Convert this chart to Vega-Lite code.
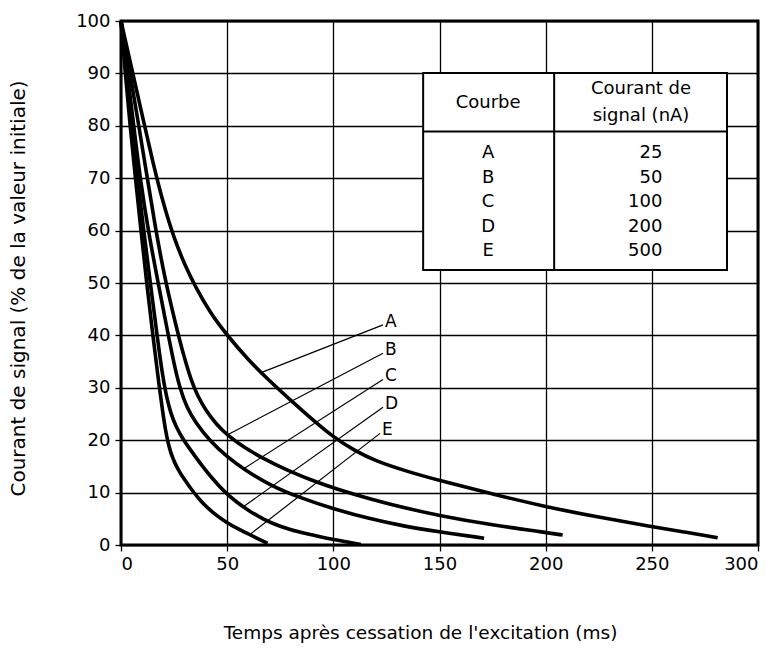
{
  "$schema": "https://vega.github.io/schema/vega-lite/v6.json",
  "width": 637,
  "height": 524,
  "autosize": {"type": "none"},
  "padding": {"left": 121, "top": 21, "right": 21, "bottom": 109},
  "background": "white",
  "config": {
    "font": "DejaVu Sans",
    "view": {"stroke": "black", "strokeWidth": 3},
    "text": {"font": "DejaVu Sans", "fontSize": 17, "color": "black"},
    "axis": {
      "labelFont": "DejaVu Sans",
      "titleFont": "DejaVu Sans",
      "labelColor": "black",
      "titleColor": "black",
      "labelFontSize": 18,
      "titleFontSize": 18.5,
      "titleFontWeight": "normal",
      "domain": false,
      "grid": true,
      "gridColor": "black",
      "gridOpacity": 1,
      "gridWidth": 1.3,
      "tickColor": "black",
      "tickSize": 6,
      "tickWidth": 1.3
    }
  },
  "datasets": {
    "courbes": [
      {"courbe": "A", "temps": 0, "courant": 100},
      {"courbe": "A", "temps": 5, "courant": 91},
      {"courbe": "A", "temps": 10, "courant": 82},
      {"courbe": "A", "temps": 15, "courant": 73},
      {"courbe": "A", "temps": 20, "courant": 65},
      {"courbe": "A", "temps": 25, "courant": 58.5},
      {"courbe": "A", "temps": 30, "courant": 53.5},
      {"courbe": "A", "temps": 35, "courant": 49.3},
      {"courbe": "A", "temps": 42, "courant": 44.3},
      {"courbe": "A", "temps": 50, "courant": 40},
      {"courbe": "A", "temps": 60, "courant": 35.3},
      {"courbe": "A", "temps": 70, "courant": 31.3},
      {"courbe": "A", "temps": 80, "courant": 27.6},
      {"courbe": "A", "temps": 90, "courant": 24},
      {"courbe": "A", "temps": 100, "courant": 20.6},
      {"courbe": "A", "temps": 110, "courant": 18},
      {"courbe": "A", "temps": 120, "courant": 16},
      {"courbe": "A", "temps": 135, "courant": 14},
      {"courbe": "A", "temps": 150, "courant": 12.3},
      {"courbe": "A", "temps": 175, "courant": 9.7},
      {"courbe": "A", "temps": 200, "courant": 7.3},
      {"courbe": "A", "temps": 225, "courant": 5.3},
      {"courbe": "A", "temps": 250, "courant": 3.5},
      {"courbe": "A", "temps": 265, "courant": 2.5},
      {"courbe": "A", "temps": 281, "courant": 1.4},
      {"courbe": "B", "temps": 0, "courant": 100},
      {"courbe": "B", "temps": 4, "courant": 90.5},
      {"courbe": "B", "temps": 8, "courant": 81},
      {"courbe": "B", "temps": 12, "courant": 71},
      {"courbe": "B", "temps": 16, "courant": 61},
      {"courbe": "B", "temps": 20.5, "courant": 51},
      {"courbe": "B", "temps": 27, "courant": 40},
      {"courbe": "B", "temps": 30, "courant": 35.5},
      {"courbe": "B", "temps": 33, "courant": 31.5},
      {"courbe": "B", "temps": 36, "courant": 28.5},
      {"courbe": "B", "temps": 40, "courant": 25.6},
      {"courbe": "B", "temps": 45, "courant": 23},
      {"courbe": "B", "temps": 50, "courant": 21},
      {"courbe": "B", "temps": 58, "courant": 18.6},
      {"courbe": "B", "temps": 67, "courant": 16.5},
      {"courbe": "B", "temps": 78, "courant": 14.3},
      {"courbe": "B", "temps": 90, "courant": 12.3},
      {"courbe": "B", "temps": 102, "courant": 10.6},
      {"courbe": "B", "temps": 117, "courant": 8.8},
      {"courbe": "B", "temps": 133, "courant": 7.1},
      {"courbe": "B", "temps": 150, "courant": 5.6},
      {"courbe": "B", "temps": 175, "courant": 3.8},
      {"courbe": "B", "temps": 200, "courant": 2.4},
      {"courbe": "B", "temps": 208, "courant": 1.9},
      {"courbe": "C", "temps": 0, "courant": 100},
      {"courbe": "C", "temps": 3, "courant": 90},
      {"courbe": "C", "temps": 6, "courant": 80},
      {"courbe": "C", "temps": 9, "courant": 70},
      {"courbe": "C", "temps": 12.8, "courant": 60},
      {"courbe": "C", "temps": 17.5, "courant": 50},
      {"courbe": "C", "temps": 22.3, "courant": 40},
      {"courbe": "C", "temps": 25, "courant": 34.5},
      {"courbe": "C", "temps": 28, "courant": 29.5},
      {"courbe": "C", "temps": 31, "courant": 26.3},
      {"courbe": "C", "temps": 35, "courant": 23.4},
      {"courbe": "C", "temps": 42, "courant": 19.8},
      {"courbe": "C", "temps": 50, "courant": 16.8},
      {"courbe": "C", "temps": 58, "courant": 14.4},
      {"courbe": "C", "temps": 70, "courant": 11.4},
      {"courbe": "C", "temps": 85, "courant": 8.9},
      {"courbe": "C", "temps": 100, "courant": 6.9},
      {"courbe": "C", "temps": 117, "courant": 5},
      {"courbe": "C", "temps": 133, "courant": 3.6},
      {"courbe": "C", "temps": 150, "courant": 2.5},
      {"courbe": "C", "temps": 171, "courant": 1.3},
      {"courbe": "D", "temps": 0, "courant": 100},
      {"courbe": "D", "temps": 2.5, "courant": 90},
      {"courbe": "D", "temps": 5, "courant": 80},
      {"courbe": "D", "temps": 7.8, "courant": 70},
      {"courbe": "D", "temps": 10.7, "courant": 60},
      {"courbe": "D", "temps": 13.8, "courant": 50},
      {"courbe": "D", "temps": 17, "courant": 40},
      {"courbe": "D", "temps": 19.3, "courant": 33},
      {"courbe": "D", "temps": 21.3, "courant": 28.5},
      {"courbe": "D", "temps": 23.5, "courant": 25},
      {"courbe": "D", "temps": 26, "courant": 22.5},
      {"courbe": "D", "temps": 29, "courant": 20.3},
      {"courbe": "D", "temps": 33, "courant": 18},
      {"courbe": "D", "temps": 38, "courant": 15.2},
      {"courbe": "D", "temps": 43, "courant": 12.7},
      {"courbe": "D", "temps": 48, "courant": 10.4},
      {"courbe": "D", "temps": 55, "courant": 8},
      {"courbe": "D", "temps": 60, "courant": 6.6},
      {"courbe": "D", "temps": 67, "courant": 4.9},
      {"courbe": "D", "temps": 75, "courant": 3.5},
      {"courbe": "D", "temps": 85, "courant": 2.3},
      {"courbe": "D", "temps": 98, "courant": 1.2},
      {"courbe": "D", "temps": 105, "courant": 0.7},
      {"courbe": "D", "temps": 113, "courant": 0.1},
      {"courbe": "E", "temps": 0, "courant": 100},
      {"courbe": "E", "temps": 2, "courant": 90},
      {"courbe": "E", "temps": 4.3, "courant": 80},
      {"courbe": "E", "temps": 6.8, "courant": 70},
      {"courbe": "E", "temps": 9.4, "courant": 60},
      {"courbe": "E", "temps": 12.1, "courant": 50},
      {"courbe": "E", "temps": 15, "courant": 40},
      {"courbe": "E", "temps": 18, "courant": 30.2},
      {"courbe": "E", "temps": 19.6, "courant": 25.5},
      {"courbe": "E", "temps": 20.9, "courant": 22},
      {"courbe": "E", "temps": 22.4, "courant": 19},
      {"courbe": "E", "temps": 24.3, "courant": 16.5},
      {"courbe": "E", "temps": 27, "courant": 14.3},
      {"courbe": "E", "temps": 30, "courant": 12.4},
      {"courbe": "E", "temps": 33.5, "courant": 10.4},
      {"courbe": "E", "temps": 37.5, "courant": 8.4},
      {"courbe": "E", "temps": 43, "courant": 6.2},
      {"courbe": "E", "temps": 50, "courant": 4.2},
      {"courbe": "E", "temps": 55, "courant": 3.1},
      {"courbe": "E", "temps": 60, "courant": 2.1},
      {"courbe": "E", "temps": 65, "courant": 1.1},
      {"courbe": "E", "temps": 69, "courant": 0.3}
    ],
    "reperes": [
      {"courbe": "A", "temps_courbe": 66, "courant_courbe": 32.9, "temps_etiquette": 123.4, "courant_etiquette": 42},
      {"courbe": "B", "temps_courbe": 50, "courant_courbe": 21, "temps_etiquette": 123.4, "courant_etiquette": 36.6},
      {"courbe": "C", "temps_courbe": 57.6, "courant_courbe": 14.5, "temps_etiquette": 123.4, "courant_etiquette": 31.6},
      {"courbe": "D", "temps_courbe": 57.6, "courant_courbe": 7.3, "temps_etiquette": 123.4, "courant_etiquette": 26.3},
      {"courbe": "E", "temps_courbe": 60.7, "courant_courbe": 2.0, "temps_etiquette": 122, "courant_etiquette": 21.3}
    ],
    "tableau": [
      {"courbe": "A", "courant_nA": 25},
      {"courbe": "B", "courant_nA": 50},
      {"courbe": "C", "courant_nA": 100},
      {"courbe": "D", "courant_nA": 200},
      {"courbe": "E", "courant_nA": 500}
    ]
  },
  "layer": [
    {
      "layer": [
        {
          "data": {"name": "courbes"},
          "mark": {"type": "line", "color": "black", "strokeWidth": 3.6, "interpolate": "basis"},
          "encoding": {
            "x": {
              "field": "temps", "type": "quantitative",
              "scale": {"domain": [0, 300], "nice": false},
              "axis": {
                "title": "Temps après cessation de l'excitation (ms)",
                "values": [0, 50, 100, 150, 200, 250, 300],
                "labelPadding": 4,
                "titleX": 299,
                "titleY": 87,
                "titleBaseline": "middle"
              }
            },
            "y": {
              "field": "courant", "type": "quantitative",
              "scale": {"domain": [0, 100], "nice": false},
              "axis": {
                "title": "Courant de signal (% de la valeur initiale)",
                "values": [0, 10, 20, 30, 40, 50, 60, 70, 80, 90, 100],
                "labelPadding": 5,
                "titleX": -103,
                "titleY": 267,
                "titleFontSize": 20,
                "titleBaseline": "middle"
              }
            },
            "detail": {"field": "courbe", "type": "nominal"}
          }
        },
        {
          "data": {"name": "reperes"},
          "mark": {"type": "rule", "color": "black", "strokeWidth": 1.2},
          "encoding": {
            "x": {"field": "temps_courbe", "type": "quantitative"},
            "y": {"field": "courant_courbe", "type": "quantitative"},
            "x2": {"field": "temps_etiquette"},
            "y2": {"field": "courant_etiquette"}
          }
        },
        {
          "data": {"name": "reperes"},
          "mark": {"type": "text", "align": "left", "baseline": "middle", "dx": 2, "dy": -3, "fontSize": 17},
          "encoding": {
            "x": {"field": "temps_etiquette", "type": "quantitative"},
            "y": {"field": "courant_etiquette", "type": "quantitative"},
            "text": {"field": "courbe", "type": "nominal"}
          }
        },
        {
          "data": {"values": [{}]},
          "mark": {"type": "rect", "fill": "white", "stroke": "black", "strokeWidth": 2},
          "encoding": {
            "x": {"datum": 142.3, "type": "quantitative"},
            "x2": {"datum": 285.4},
            "y": {"datum": 52.5, "type": "quantitative"},
            "y2": {"datum": 90.1}
          }
        },
        {
          "data": {"values": [{}]},
          "mark": {"type": "rule", "color": "black", "strokeWidth": 2},
          "encoding": {
            "x": {"datum": 142.3, "type": "quantitative"},
            "x2": {"datum": 285.4},
            "y": {"datum": 78.9, "type": "quantitative"}
          }
        },
        {
          "data": {"values": [{}]},
          "mark": {"type": "rule", "color": "black", "strokeWidth": 2},
          "encoding": {
            "x": {"datum": 204, "type": "quantitative"},
            "y": {"datum": 52.5, "type": "quantitative"},
            "y2": {"datum": 90.1}
          }
        },
        {
          "data": {"values": [{}]},
          "mark": {"type": "text", "text": "Courbe", "align": "center", "baseline": "middle", "fontSize": 18},
          "encoding": {
            "x": {"datum": 172.9, "type": "quantitative"},
            "y": {"datum": 84.3, "type": "quantitative"}
          }
        },
        {
          "data": {"values": [{}]},
          "mark": {"type": "text", "text": ["Courant de", "signal (nA)"], "align": "center", "baseline": "middle", "fontSize": 18, "lineHeight": 27},
          "encoding": {
            "x": {"datum": 244.9, "type": "quantitative"},
            "y": {"datum": 87.0, "type": "quantitative"}
          }
        }
      ]
    },
    {
      "data": {"name": "tableau"},
      "encoding": {
        "y": {
          "field": "courbe", "type": "ordinal",
          "scale": {"type": "point", "range": [132, 230], "padding": 0},
          "axis": null
        }
      },
      "layer": [
        {
          "mark": {"type": "text", "align": "center", "baseline": "middle", "fontSize": 18},
          "encoding": {
            "x": {"datum": 172.9, "type": "quantitative"},
            "text": {"field": "courbe", "type": "nominal"}
          }
        },
        {
          "mark": {"type": "text", "align": "right", "baseline": "middle", "fontSize": 18},
          "encoding": {
            "x": {"datum": 255, "type": "quantitative"},
            "text": {"field": "courant_nA", "type": "quantitative"}
          }
        }
      ]
    }
  ],
  "resolve": {"scale": {"y": "independent"}}
}
